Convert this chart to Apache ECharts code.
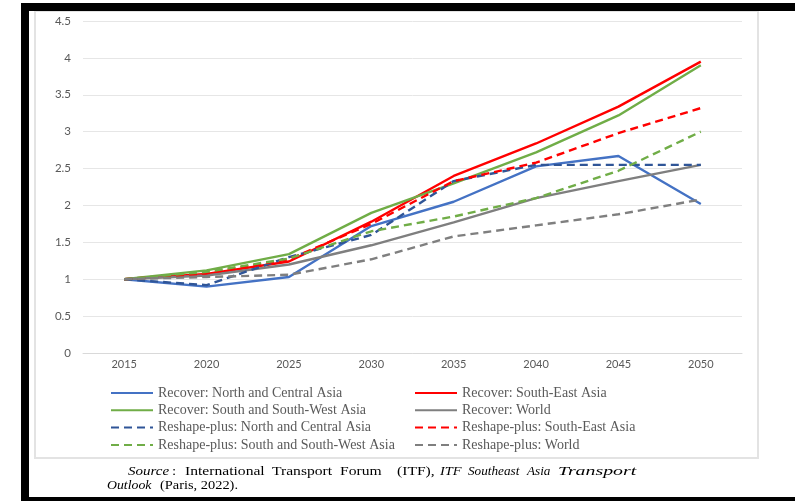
<!DOCTYPE html>
<html>
<head>
<meta charset="utf-8">
<script src="https://cdn.jsdelivr.net/npm/echarts@6/dist/echarts.min.js"></script>
<style>html,body{margin:0;padding:0;background:#fff;}#c{width:795px;height:501px;}</style>
</head>
<body>
<div id="c"></div>
<script>
var years = ['2015','2020','2025','2030','2035','2040','2045','2050'];
var yTicks = [0, 0.5, 1, 1.5, 2, 2.5, 3, 3.5, 4, 4.5];
var recoverNCA   = [1.00, 0.90, 1.03, 1.72, 2.05, 2.53, 2.67, 2.02];
var recoverSEA   = [1.00, 1.07, 1.24, 1.78, 2.40, 2.84, 3.34, 3.95];
var recoverSSWA  = [1.00, 1.12, 1.34, 1.90, 2.30, 2.72, 3.22, 3.90];
var recoverWorld = [1.00, 1.05, 1.20, 1.46, 1.77, 2.10, 2.33, 2.55];
var reshapeNCA   = [1.00, 0.92, 1.30, 1.60, 2.33, 2.55, 2.55, 2.55];
var reshapeSEA   = [1.00, 1.08, 1.27, 1.75, 2.33, 2.58, 2.98, 3.32];
var reshapeSSWA  = [1.00, 1.10, 1.28, 1.65, 1.85, 2.10, 2.47, 3.00];
var reshapeWorld = [1.00, 1.03, 1.06, 1.27, 1.58, 1.73, 1.88, 2.08];
var names = ['Recover: North and Central Asia','Recover: South-East Asia','Recover: South and South-West Asia','Recover: World',
             'Reshape-plus: North and Central Asia','Reshape-plus: South-East Asia','Reshape-plus: South and South-West Asia','Reshape-plus: World'];

var chart = echarts.init(document.getElementById('c'), null, {renderer:'canvas'});
function mk(name, data, color, dashed) {
  return {
    name: name, type: 'line', data: data, symbol: 'none', smooth: false,
    lineStyle: {color: color, width: 2.4, type: dashed ? [8, 5] : 'solid'},
    itemStyle: {color: color},
    emphasis: {disabled: true}
  };
}
var legendText = {fontFamily: 'Liberation Serif', fontSize: 14, lineHeight: 14, color: '#595959'};
var srcFont = 'Liberation Serif';
function word(x, y, t, italic, sx) {
  return {type:'text', x: x, y: y, scaleX: sx, scaleY: 1,
    style:{text: t, font: (italic ? 'italic ' : '') + '12px "' + srcFont + '"', fill:'#000', verticalAlign:'middle'}, z: 10};
}
var legendCommon = {orient: 'vertical', top: 381, itemWidth: 42, itemHeight: 12, itemGap: 3.3,
  textStyle: legendText, selectedMode: false, itemStyle: {opacity: 0, borderWidth: 0}};
chart.setOption({
  animation: false,
  backgroundColor: '#fff',
  grid: {left: 83, right: 53, top: 21, bottom: 148, containLabel: false},
  xAxis: {
    type: 'category', data: years, boundaryGap: true,
    axisLine: {show: true, lineStyle: {color: '#d9d9d9', width: 1}},
    axisTick: {show: false},
    axisLabel: {color: '#595959', fontFamily: 'Lato', fontSize: 11, margin: 6}
  },
  yAxis: {
    type: 'value', min: 0, max: 4.5, interval: 0.5,
    axisLine: {show: false}, axisTick: {show: false},
    splitLine: {lineStyle: {color: '#e6e6e6', width: 1}},
    axisLabel: {color: '#595959', fontFamily: 'Lato', fontSize: 11.5, margin: 12,
      formatter: function (v) { return yTicks.indexOf(v) >= 0 ? String(v) : ''; }}
  },
  legend: [
    Object.assign({left: 105, data: [names[0], names[2], names[4], names[6]]}, legendCommon),
    Object.assign({left: 409, data: [names[1], names[3], names[5], names[7]]}, legendCommon)
  ],
  series: [
    mk(names[0], recoverNCA, '#4472C4', false),
    mk(names[1], recoverSEA, '#FF0000', false),
    mk(names[2], recoverSSWA, '#70AD47', false),
    mk(names[3], recoverWorld, '#7F7F7F', false),
    mk(names[4], reshapeNCA, '#2F5597', true),
    mk(names[5], reshapeSEA, '#FF0000', true),
    mk(names[6], reshapeSSWA, '#70AD47', true),
    mk(names[7], reshapeWorld, '#7F7F7F', true)
  ],
  graphic: [
    {type:'rect', shape:{x:35, y:11, width:723, height:447}, style:{fill:'none', stroke:'#e3e3e3', lineWidth:2}, z: -1, silent:true},
    {type:'rect', shape:{x:21, y:3, width:8, height:498}, style:{fill:'#000'}, z: 20},
    {type:'rect', shape:{x:21, y:3, width:774, height:8}, style:{fill:'#000'}, z: 20},
    {type:'rect', shape:{x:21, y:497, width:774, height:4}, style:{fill:'#000'}, z: 20},
    word(128, 472, 'Source', true, 1.25),
    word(172, 472, ':', false, 1.25),
    word(185, 472, 'International', false, 1.3),
    word(272, 472, 'Transport', false, 1.3),
    word(340, 472, 'Forum', false, 1.3),
    word(397, 472, '(ITF),', false, 1.3),
    word(440, 472, 'ITF', true, 1.2),
    word(468, 472, 'Southeast', true, 1.1),
    word(527, 472, 'Asia', true, 1.1),
    word(558, 472, 'Transport', true, 1.65),
    word(107, 486, 'Outlook', true, 1.15),
    word(160, 486, '(Paris, 2022).', false, 1.2)
  ]
});
</script>
</body>
</html>
